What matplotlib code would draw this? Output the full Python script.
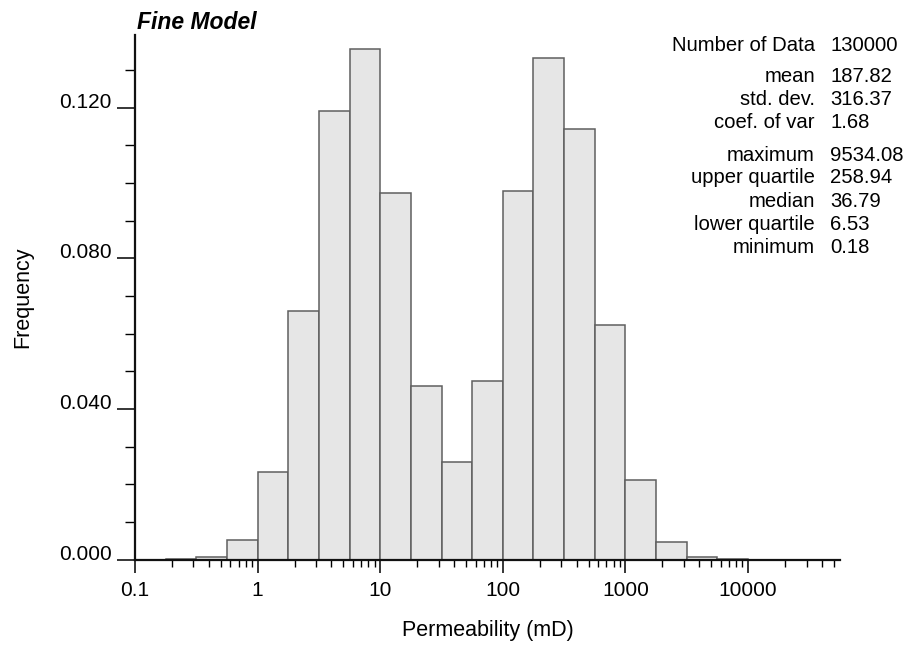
import numpy as np
import matplotlib
matplotlib.use("Agg")
import matplotlib.pyplot as plt
from matplotlib.ticker import LogLocator, MultipleLocator, NullFormatter

plt.rcParams['font.family'] = ['Liberation Sans', 'DejaVu Sans']

# histogram bins: log10 spacing of 0.25 starting at 0.1 mD
bin_start_log = -1.0
bin_step_log = 0.25
freq = [0.0000, 0.0001, 0.0007, 0.0052, 0.0232, 0.0661, 0.1191, 0.1355,
        0.0974, 0.0462, 0.0258, 0.0474, 0.0980, 0.1331, 0.1143, 0.0624,
        0.0211, 0.0046, 0.0007, 0.0002, 0.0000]

x_ticks = [0.1, 1, 10, 100, 1000, 10000]
x_ticklabels = ['0.1', '1', '10', '100', '1000', '10000']

stat_names = ['Number of Data', 'mean', 'std. dev.', 'coef. of var',
              'maximum', 'upper quartile', 'median', 'lower quartile', 'minimum']
stat_values = ['130000', '187.82', '316.37', '1.68',
               '9534.08', '258.94', '36.79', '6.53', '0.18']

edges = 10 ** (bin_start_log + bin_step_log * np.arange(len(freq) + 1))

W, H = 909, 650
fig = plt.figure(figsize=(W / 100, H / 100), dpi=100)
ax = fig.add_axes([135 / W, 1 - 559.5 / H, 705 / W, 524.5 / H])

ax.bar(edges[:-1], freq, width=np.diff(edges), align='edge',
       color='#e6e6e6', edgecolor='#5f5f5f', linewidth=1.1, zorder=2)

ax.set_xscale('log')
ax.set_xlim(0.1, 10 ** 4.75)
ax.set_ylim(0, 0.1393)

ax.set_xticks(x_ticks)
ax.set_xticklabels(x_ticklabels)
ax.xaxis.set_minor_locator(LogLocator(base=10, subs=np.arange(2, 10), numticks=20))
ax.xaxis.set_minor_formatter(NullFormatter())

ax.yaxis.set_major_locator(MultipleLocator(0.04))
ax.yaxis.set_minor_locator(MultipleLocator(0.01))
ax.yaxis.set_major_formatter(lambda v, p: f'{v:.3f}')

for s in ['top', 'right']:
    ax.spines[s].set_visible(False)
for s in ['left', 'bottom']:
    ax.spines[s].set_linewidth(1.6)
    ax.spines[s].set_color('#111111')
    ax.spines[s].set_zorder(3)

# tick lengths in points (px * 0.72)
ax.tick_params(axis='x', which='major', length=9.3, width=1.1, pad=6, labelsize=15)
ax.tick_params(axis='x', which='minor', length=4.8, width=1.0)
ax.tick_params(axis='y', which='major', length=13, width=1.1, pad=4, labelsize=15)
ax.tick_params(axis='y', which='minor', length=7.2, width=1.0)
for lab in ax.get_yticklabels():
    lab.set_verticalalignment('baseline')

ax.set_xlabel('Permeability (mD)', fontsize=15.5)
ax.xaxis.set_label_coords(0.5, (559.5 - 620) / 524.5)
ax.set_ylabel('Frequency', fontsize=15.5)
ax.yaxis.set_label_coords((33 - 135) / 705, 0.5)

fig.text(137 / W, 1 - 29 / H, 'Fine Model', fontsize=16.5,
         fontweight='bold', fontstyle='italic', va='baseline', ha='left')

# summary statistics block
y_px = [50.7, 81.7, 105, 128.3, 160.7, 183.3, 206.7, 230, 253.3]
for name, val, yp in zip(stat_names, stat_values, y_px):
    fig.text(815 / W, 1 - yp / H, name, ha='right', va='baseline', fontsize=14.6)
    fig.text(830 / W, 1 - yp / H, val, ha='left', va='baseline', fontsize=14.6)

fig.savefig('out.png', dpi=100)
